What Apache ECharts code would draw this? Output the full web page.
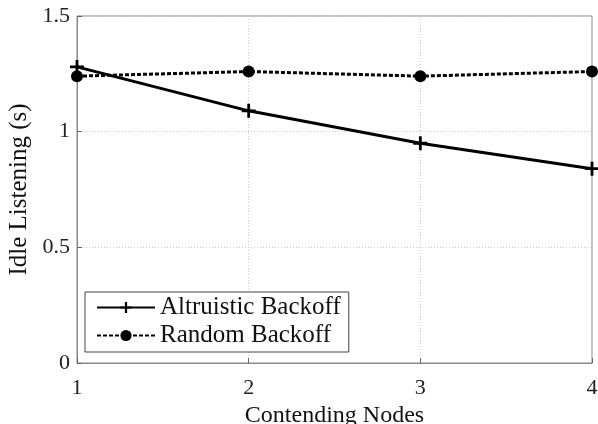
<!DOCTYPE html>
<html><head><meta charset="utf-8">
<script src="https://cdn.jsdelivr.net/npm/echarts@6/dist/echarts.min.js"></script>
<style>html,body{margin:0;padding:0;background:#fff}#c{width:598px;height:424px}</style>
</head><body><div id="c"></div>
<script>
const categories = [1, 2, 3, 4];
const altruistic = [1.28, 1.09, 0.95, 0.84];
const random = [1.24, 1.26, 1.24, 1.26];
const seriesNames = ['Altruistic Backoff', 'Random Backoff'];
const xTicks = [1, 2, 3, 4];
const yTicks = [0, 0.5, 1, 1.5];

const font = 'Liberation Serif';
const chart = echarts.init(document.getElementById('c'));
const plus = 'path://M4,0H6V4H10V6H6V10H4V6H0V4H4Z';
chart.setOption({
  animation: false,
  backgroundColor: '#fff',
  grid: {left: 77, right: 6, top: 16, bottom: 61, show: true, borderColor: '#888', borderWidth: 1,
         containLabel: false, outerBoundsMode: 'none'},
  xAxis: {
    type: 'value', min: 1, max: 4, interval: 1,
    name: 'Contending Nodes', nameLocation: 'middle', nameGap: 32,
    nameTextStyle: {fontFamily: font, fontSize: 24, color: '#111'},
    axisLine: {show: true, lineStyle: {color: '#888'}},
    axisTick: {show: true, inside: true, length: 5, lineStyle: {color: '#666'}},
    axisLabel: {fontFamily: font, fontSize: 22, color: '#222', margin: 14,
      formatter: v => xTicks.includes(v) ? String(v) : ''},
    splitLine: {show: true, lineStyle: {color: '#ccc', type: [1, 2], width: 1}}
  },
  yAxis: {
    type: 'value', min: 0, max: 1.5, interval: 0.5,
    name: 'Idle Listening (s)', nameLocation: 'middle', nameGap: 44,
    nameTextStyle: {fontFamily: font, fontSize: 25, color: '#111'},
    axisLine: {show: true, lineStyle: {color: '#888'}},
    axisTick: {show: true, inside: true, length: 5, lineStyle: {color: '#666'}},
    axisLabel: {fontFamily: font, fontSize: 22, color: '#222', margin: 7,
      formatter: v => yTicks.includes(v) ? String(v) : ''},
    splitLine: {show: true, lineStyle: {color: '#ccc', type: [1, 2], width: 1}}
  },
  legend: {
    left: 85, top: 292, orient: 'vertical',
    backgroundColor: '#fff', borderColor: '#444', borderWidth: 1,
    padding: [3, 8, 4, 11], itemGap: 3, itemWidth: 58, itemHeight: 14,
    textStyle: {fontFamily: font, fontSize: 25, color: '#111'},
    data: seriesNames
  },
  series: [
    {name: seriesNames[0], type: 'line', data: categories.map((c, i) => [c, altruistic[i]]),
     symbol: plus, symbolSize: 14, color: '#000',
     lineStyle: {color: '#000', width: 3}, itemStyle: {color: '#000'}},
    {name: seriesNames[1], type: 'line', data: categories.map((c, i) => [c, random[i]]),
     symbol: 'circle', symbolSize: 12, color: '#000',
     lineStyle: {color: '#000', width: 3, type: [4, 2]}, itemStyle: {color: '#000'}}
  ]
});
</script></body></html>
